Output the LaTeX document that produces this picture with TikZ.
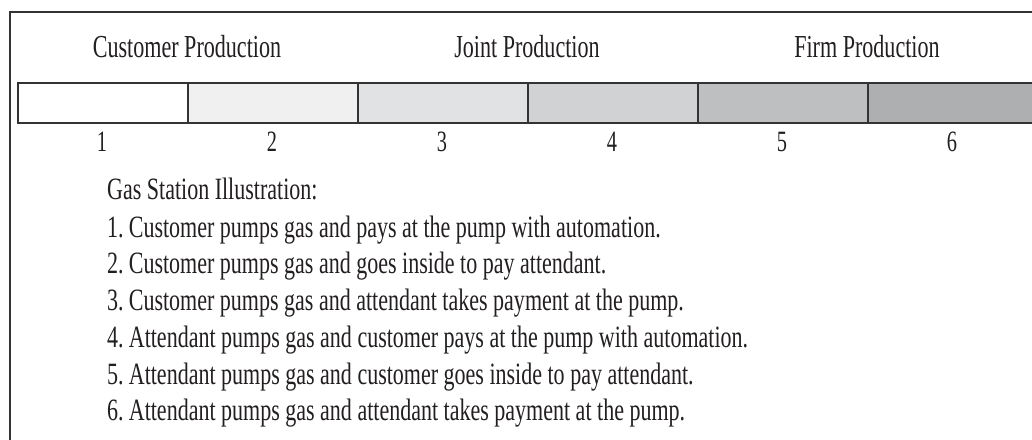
\documentclass[tikz,border=0pt]{standalone}
\usepackage{fontspec}
\setmainfont[FakeStretch=0.69]{Liberation Serif}
\newfontfamily\listfont[FakeStretch=0.71]{Liberation Serif}
\definecolor{ink}{HTML}{231F20}
\definecolor{frame}{HTML}{333333}
\definecolor{c1}{HTML}{FFFFFF}
\definecolor{c2}{HTML}{F0F0F0}
\definecolor{c3}{HTML}{E1E2E4}
\definecolor{c4}{HTML}{D1D2D4}
\definecolor{c5}{HTML}{BEBFC1}
\definecolor{c6}{HTML}{AEAFB1}
\tikzset{
  heading/.style={anchor=base, inner sep=0pt, text=ink, font=\fontsize{32}{36}\selectfont},
  numlabel/.style={anchor=base, inner sep=0pt, text=ink, font=\fontsize{29.5}{33}\selectfont},
  listline/.style={anchor=base west, inner sep=0pt, text=ink, font=\listfont\fontsize{31}{35}\selectfont},
  cell/.style={draw=frame, line width=2pt, minimum width=170pt, minimum height=39.5pt, inner sep=0pt, anchor=north west},
}
\begin{document}
\begin{tikzpicture}[x=1pt,y=-1pt]
\useasboundingbox (0,0) rectangle (1032,439);
\clip (0,0) rectangle (1032,439);
\fill[white] (0,0) rectangle (1032,439);
\draw[frame, line width=2pt] (10,445) -- (10,11.5) -- (1040,11.5);
\foreach \i/\c in {1/c1,2/c2,3/c3,4/c4,5/c5,6/c6}{
  \node[cell, fill=\c] (s\i) at ({17+170*(\i-1)},82) {};
  \node[numlabel] (n\i) at ({102+170*(\i-1)},151) {\i};
}
\node[heading] (hc) at (187,57) {Customer Production};
\node[heading] (hj) at (527,57) {Joint Production};
\node[heading] (hf) at (867,57) {Firm Production};
\node[listline] (g) at (107,199) {Gas Station Illustration:};
\node[listline] (l1) at (107,237) {1.\,Customer pumps gas and pays at the pump with automation.};
\node[listline] (l2) at (107,273) {2.\,Customer pumps gas and goes inside to pay attendant.};
\node[listline] (l3) at (107,310) {3.\,Customer pumps gas and attendant takes payment at the pump.};
\node[listline] (l4) at (107,347) {4.\,Attendant pumps gas and customer pays at the pump with automation.};
\node[listline] (l5) at (107,384) {5.\,Attendant pumps gas and customer goes inside to pay attendant.};
\node[listline] (l6) at (107,420) {6.\,Attendant pumps gas and attendant takes payment at the pump.};
\end{tikzpicture}
\end{document}
